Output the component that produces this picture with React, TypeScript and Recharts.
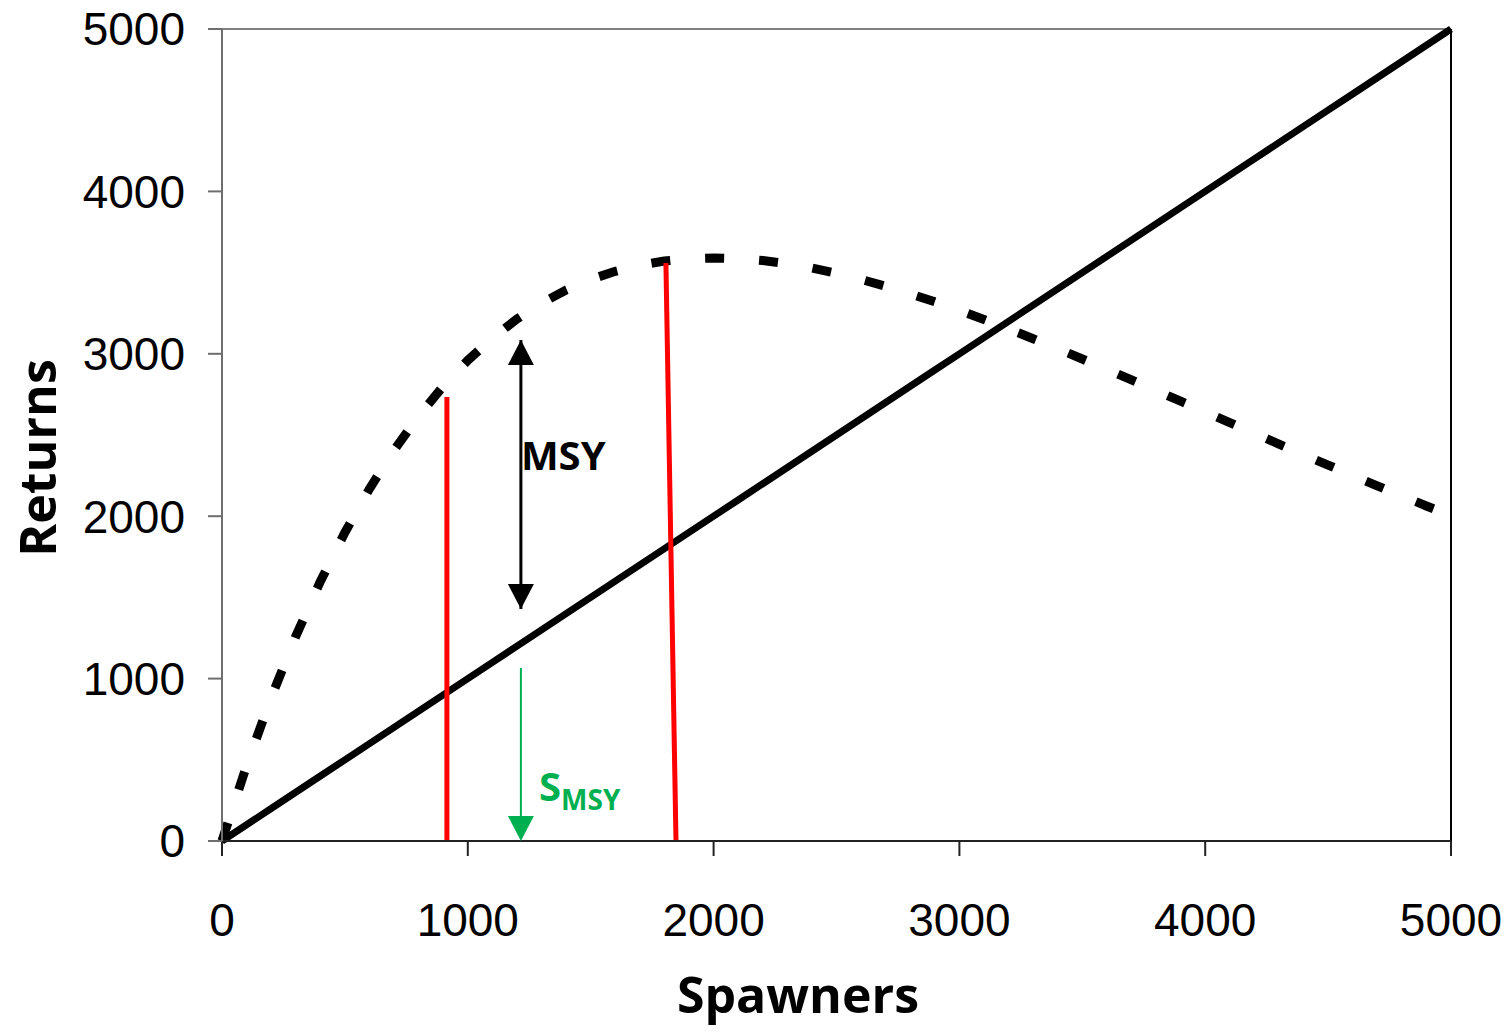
import {
  Label,
  Line,
  LineChart,
  ReferenceDot,
  ReferenceLine,
  XAxis,
  YAxis
} from "recharts";

// spawners grid (x) and the two curves
const spawners = [
  0, 100, 200, 300, 400, 500, 600, 700, 800, 900, 1000, 1100, 1200, 1300, 1400, 1500, 1600,
  1700, 1800, 1900, 2000, 2100, 2200, 2300, 2400, 2500, 2600, 2700, 2800, 2900, 3000, 3100,
  3200, 3300, 3400, 3500, 3600, 3700, 3800, 3900, 4000, 4100, 4200, 4300, 4400, 4500, 4600,
  4700, 4800, 4900, 5000
];
const recruits = [
  0, 464, 883, 1260, 1598, 1900, 2169, 2407, 2617, 2800, 2960, 3097, 3214, 3312, 3393, 3458,
  3508, 3546, 3571, 3586, 3590, 3586, 3574, 3554, 3528, 3495, 3458, 3416, 3369, 3320, 3267,
  3211, 3153, 3093, 3031, 2968, 2904, 2839, 2774, 2708, 2642, 2576, 2510, 2444, 2379, 2315,
  2251, 2187, 2125, 2063, 2003
];
const replacement = [
  0, 100, 200, 300, 400, 500, 600, 700, 800, 900, 1000, 1100, 1200, 1300, 1400, 1500, 1600,
  1700, 1800, 1900, 2000, 2100, 2200, 2300, 2400, 2500, 2600, 2700, 2800, 2900, 3000, 3100,
  3200, 3300, 3400, 3500, 3600, 3700, 3800, 3900, 4000, 4100, 4200, 4300, 4400, 4500, 4600,
  4700, 4800, 4900, 5000
];

const xTicks = [0, 1000, 2000, 3000, 4000, 5000];
const yTicks = [0, 1000, 2000, 3000, 4000, 5000];

// red marker lines: [S at bottom, S at top, top returns]
const redLow = [915, 915, 2734];
const redHigh = [1847, 1806, 3559];

// MSY arrow and S_MSY arrow (spawners, from returns, to returns)
const msyArrow = [1216, 3085, 1429];
const smsyArrow = [1216, 1065, 0];

const table = spawners.map((s, i) => ({ s, returns: recruits[i], oneToOne: replacement[i] }));

const tickFont = { fontFamily: "Liberation Sans, Arial, sans-serif", fontSize: 46, fill: "#000" };
const boldFont = "Open Sans, sans-serif";
const GREEN = "#00B050";
const HEAD_W = 13;
const HEAD_H = 25;

const headUp = (color: string) => (p: any) => (
  <polygon
    points={`${p.cx},${p.cy} ${p.cx - HEAD_W},${p.cy + HEAD_H} ${p.cx + HEAD_W},${p.cy + HEAD_H}`}
    fill={color}
  />
);
const headDown = (color: string) => (p: any) => (
  <polygon
    points={`${p.cx},${p.cy} ${p.cx - HEAD_W},${p.cy - HEAD_H} ${p.cx + HEAD_W},${p.cy - HEAD_H}`}
    fill={color}
  />
);

export default function App() {
  return (
    <div style={{ position: "absolute", left: 0, top: 0, width: 1510, height: 1031, background: "#fff" }}>
      <LineChart
        width={1510}
        height={1031}
        data={table}
        margin={{ top: 29, right: 59, bottom: 0, left: 22 }}
      >
        <XAxis
          dataKey="s"
          type="number"
          domain={[0, 5000]}
          ticks={xTicks}
          interval={0}
          height={190}
          tickSize={15}
          tickMargin={47}
          tick={tickFont}
          axisLine={{ stroke: "#222", strokeWidth: 2 }}
          tickLine={{ stroke: "#222", strokeWidth: 2 }}
        >
          <Label
            content={() => (
              <text x={798} y={1013} textAnchor="middle" fontFamily={boldFont} fontWeight={700} fontSize={50} fill="#000">
                Spawners
              </text>
            )}
          />
        </XAxis>
        <YAxis
          type="number"
          domain={[0, 5000]}
          ticks={yTicks}
          interval={0}
          width={200}
          tickSize={14}
          tickMargin={23}
          tick={tickFont}
          axisLine={{ stroke: "#6e6e6e", strokeWidth: 2 }}
          tickLine={{ stroke: "#6e6e6e", strokeWidth: 2 }}
        >
          <Label
            content={() => (
              <text
                x={56}
                y={458}
                transform="rotate(-90, 56, 458)"
                textAnchor="middle"
                fontFamily={boldFont}
                fontWeight={700}
                fontSize={50}
                fill="#000"
              >
                Returns
              </text>
            )}
          />
        </YAxis>

        <ReferenceLine y={5000} stroke="#808080" strokeWidth={2} />
        <ReferenceLine x={5000} stroke="#000" strokeWidth={2} />

        <Line
          type="linear"
          dataKey="returns"
          stroke="#000"
          strokeWidth={9}
          strokeDasharray="19 35"
          dot={false}
          isAnimationActive={false}
        />
        <Line
          type="linear"
          dataKey="oneToOne"
          stroke="#000"
          strokeWidth={7}
          dot={false}
          isAnimationActive={false}
        />

        <ReferenceLine
          segment={[{ x: redLow[0], y: 0 }, { x: redLow[1], y: redLow[2] }]}
          stroke="#FF0000"
          strokeWidth={5}
        />
        <ReferenceLine
          segment={[{ x: redHigh[0], y: 0 }, { x: redHigh[1], y: redHigh[2] }]}
          stroke="#FF0000"
          strokeWidth={5}
        />

        <ReferenceLine
          segment={[{ x: msyArrow[0], y: msyArrow[1] }, { x: msyArrow[0], y: msyArrow[2] }]}
          stroke="#000"
          strokeWidth={3}
        />
        <ReferenceDot x={msyArrow[0]} y={msyArrow[1]} shape={headUp("#000")} />
        <ReferenceDot x={msyArrow[0]} y={msyArrow[2]} shape={headDown("#000")} />

        <ReferenceLine
          segment={[{ x: smsyArrow[0], y: smsyArrow[1] }, { x: smsyArrow[0], y: 150 }]}
          stroke={GREEN}
          strokeWidth={2}
        />
        <ReferenceDot x={smsyArrow[0]} y={smsyArrow[2]} shape={headDown(GREEN)} />

        <ReferenceDot
          x={1216}
          y={2285}
          shape={(p: any) => (
            <text x={p.cx} y={p.cy} fontFamily={boldFont} fontWeight={700} fontSize={40} fill="#000">
              MSY
            </text>
          )}
        />
        <ReferenceDot
          x={1290}
          y={246}
          shape={(p: any) => (
            <text x={p.cx} y={p.cy} fontFamily={boldFont} fontWeight={700} fontSize={40} fill={GREEN}>
              S
              <tspan fontSize={28} dy={9}>
                MSY
              </tspan>
            </text>
          )}
        />
      </LineChart>
    </div>
  );
}
